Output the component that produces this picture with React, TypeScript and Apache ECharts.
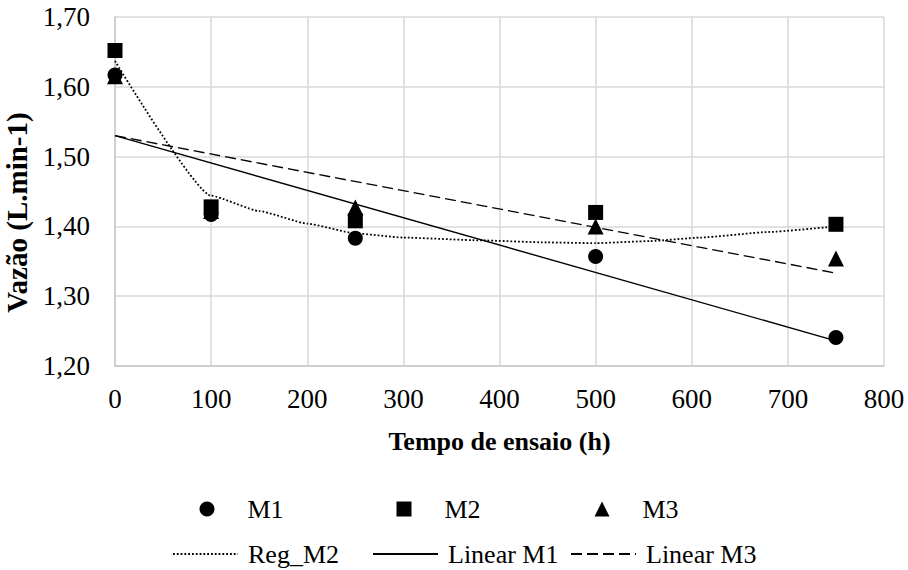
import React, { useEffect, useRef } from 'react';
import * as echarts from 'echarts';

// Test hours (x) and measured flow (y) per sample
const hours = [0, 100, 250, 500, 750];
const m1Values = [1.617, 1.417, 1.383, 1.357, 1.241];
const m2Values = [1.652, 1.428, 1.408, 1.42, 1.403];
const m3Values = [1.615, 1.422, 1.427, 1.4, 1.354];

// Reg_M2 trend curve as drawn
const regM2Hours = [0, 100, 150, 200, 250, 300, 380, 450, 500, 557, 609, 680, 750];
const regM2Values = [1.637, 1.444, 1.422, 1.404, 1.39, 1.384, 1.38, 1.377, 1.376, 1.379, 1.384, 1.392, 1.4];

// Linear trend endpoints
const linearM1Hours = [0, 750];
const linearM1Values = [1.53, 1.236];
const linearM3Hours = [0, 750];
const linearM3Values = [1.53, 1.333];

const xTicks = { min: 0, max: 800, interval: 100 };
const yTicks = { min: 1.2, max: 1.7, interval: 0.1 };

const FONT = "'Liberation Serif', 'Times New Roman', 'DejaVu Serif', serif";

const zip = (xs: number[], ys: number[]) => xs.map((x, i) => [x, ys[i]]);

export default function App() {
  const ref = useRef<HTMLDivElement>(null);
  useEffect(() => {
    const chart = echarts.init(ref.current!, null, { renderer: 'svg' });
    const text = { fontFamily: FONT, fontSize: 26, color: '#000' };
    const markerLegend = (name: string, icon: string, left: number) => ({
      left,
      top: 491,
      itemWidth: 15,
      itemHeight: 15,
      textStyle: { ...text, padding: [0, 0, 0, 28] },
      data: [{ name, icon }],
    });
    const lineLegend = (name: string, left: number) => ({
      left,
      top: 536,
      itemWidth: 65,
      itemHeight: 15,
      itemStyle: { opacity: 0 },
      textStyle: { ...text, padding: [0, 0, 0, 5] },
      data: [name],
    });
    chart.setOption({
      animation: false,
      backgroundColor: '#fff',
      textStyle: { fontFamily: FONT },
      grid: {
        left: 115,
        right: 24,
        top: 17,
        bottom: 204,
        containLabel: false,
        outerBoundsMode: 'none',
      },
      xAxis: {
        type: 'value',
        min: xTicks.min,
        max: xTicks.max,
        interval: xTicks.interval,
        name: 'Tempo de ensaio (h)',
        nameLocation: 'middle',
        nameGap: 62,
        nameTextStyle: { ...text, fontWeight: 'bold' },
        axisLine: { show: true, lineStyle: { color: '#c9c9c9', width: 1.5 } },
        axisTick: { show: false },
        axisLabel: { ...text, fontSize: 27, margin: 19 },
        splitLine: { show: true, lineStyle: { color: '#d9d9d9', width: 1.5 } },
      },
      yAxis: {
        type: 'value',
        min: yTicks.min,
        max: yTicks.max,
        interval: yTicks.interval,
        name: 'Vazão (L.min-1)',
        nameLocation: 'middle',
        nameGap: 75,
        nameTextStyle: { ...text, fontSize: 29, fontWeight: 'bold', padding: [0, 42, 0, 0] },
        axisLine: { show: true, lineStyle: { color: '#c9c9c9', width: 1.5 } },
        axisTick: { show: false },
        axisLabel: {
          ...text,
          fontSize: 27,
          margin: 25,
          formatter: (v: number) => v.toFixed(2).replace('.', ','),
        },
        splitLine: { show: true, lineStyle: { color: '#d9d9d9', width: 1.5 } },
      },
      legend: [
        markerLegend('M1', 'circle', 194.5),
        markerLegend('M2', 'rect', 391.5),
        markerLegend('M3', 'triangle', 589.5),
        lineLegend('Reg_M2', 167),
        lineLegend('Linear M1', 367),
        lineLegend('Linear M3', 565),
      ],
      series: [
        {
          name: 'Reg_M2',
          type: 'line',
          data: zip(regM2Hours, regM2Values),
          symbol: 'none',
          smooth: 0.15,
          smoothMonotone: 'x',
          lineStyle: { color: '#000', width: 1.8, type: [1.8, 2] },
          itemStyle: { color: '#000' },
          z: 3,
        },
        {
          name: 'Linear M1',
          type: 'line',
          data: zip(linearM1Hours, linearM1Values),
          symbol: 'none',
          lineStyle: { color: '#000', width: 1.4, type: 'solid' },
          itemStyle: { color: '#000' },
          z: 3,
        },
        {
          name: 'Linear M3',
          type: 'line',
          data: zip(linearM3Hours, linearM3Values),
          symbol: 'none',
          lineStyle: { color: '#000', width: 1.4, type: [11, 5] },
          itemStyle: { color: '#000' },
          z: 3,
        },
        {
          name: 'M1',
          type: 'scatter',
          data: zip(hours, m1Values),
          symbol: 'circle',
          symbolSize: 15,
          itemStyle: { color: '#000', opacity: 1 },
          z: 4,
        },
        {
          name: 'M2',
          type: 'scatter',
          data: zip(hours, m2Values),
          symbol: 'rect',
          symbolSize: 15,
          itemStyle: { color: '#000', opacity: 1 },
          z: 4,
        },
        {
          name: 'M3',
          type: 'scatter',
          data: zip(hours, m3Values),
          symbol: 'triangle',
          symbolSize: 16,
          itemStyle: { color: '#000', opacity: 1 },
          z: 4,
        },
      ],
    });
    return () => chart.dispose();
  }, []);
  return (
    <div
      ref={ref}
      style={{ position: 'fixed', left: 0, top: 0, width: 908, height: 570, background: '#fff' }}
    />
  );
}
